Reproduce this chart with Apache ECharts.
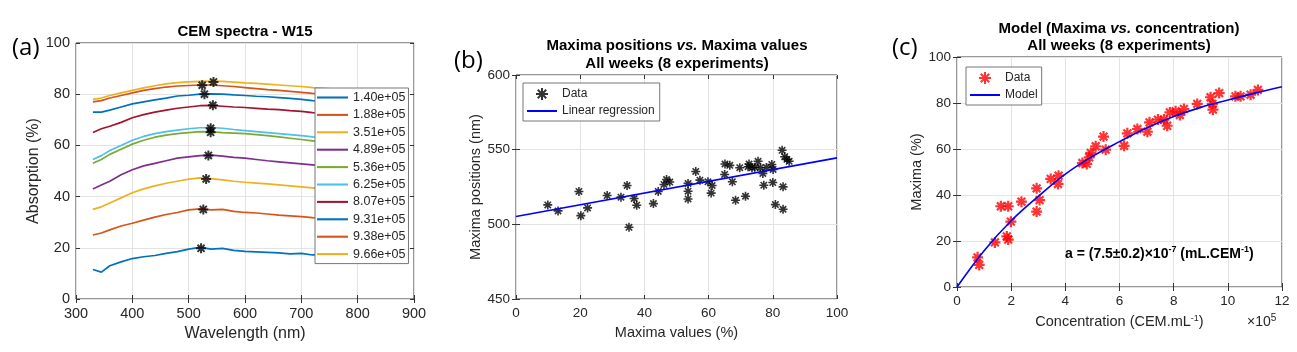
<!DOCTYPE html>
<html>
<head>
<meta charset="utf-8">
<title>CEM spectra</title>
<script src="https://cdn.jsdelivr.net/npm/echarts@6/dist/echarts.min.js"></script>
<style>
html, body { margin: 0; padding: 0; background: #fff; }
#main { width: 1297px; height: 352px; }
</style>
</head>
<body>
<div id="main"></div>
<script>
// (a) spectra
var wavelengths = [330, 345, 360, 380, 400, 420, 440, 460, 480, 500, 520, 540, 560, 580, 600, 620, 640, 660, 680, 700, 720, 740, 760, 780, 800, 820, 840, 860];
var abs140 = [11.5, 10.5, 13, 14.5, 15.8, 16.5, 17, 17.8, 18.5, 19.5, 20.2, 19.5, 19.8, 19, 18.6, 18.4, 18.2, 18, 17.6, 17.8, 17.2, 17.3, 17, 17.1, 16.9, 16.8, 16.2, 16.9];
var abs188 = [25, 25.8, 27, 28.5, 29.6, 30.8, 32, 33, 33.8, 34.8, 35.2, 34.8, 35, 34.2, 33.8, 33.6, 33.2, 32.8, 32.5, 32.2, 31.8, 31.5, 31.2, 31, 30.8, 30.5, 30.2, 30];
var abs351 = [35, 36, 37.5, 39.5, 41.5, 43, 44.2, 45.2, 46, 46.8, 47.3, 47, 46.5, 46, 45.6, 45.3, 45, 44.6, 44.2, 43.8, 43.4, 43, 42.6, 42.3, 42, 41.7, 41.4, 41.2];
var abs489 = [43, 44.5, 46, 48.5, 50.5, 52, 53, 54, 55, 55.5, 56, 56.2, 55.8, 55.3, 55, 54.5, 54, 53.6, 53.2, 52.8, 52.4, 52, 51.6, 51.3, 51, 50.7, 50.4, 50.2];
var abs536 = [53, 54.5, 56.5, 58.5, 60.5, 62, 63.2, 64, 64.6, 65, 65.4, 65.3, 65, 64.8, 64.6, 64.2, 63.8, 63.3, 62.8, 62.3, 61.8, 61.3, 60.9, 60.5, 60.1, 59.8, 59.5, 59.2];
var abs625 = [54.5, 56, 58, 60, 62, 63.5, 64.6, 65.4, 66, 66.5, 66.9, 67, 66.7, 66.2, 65.8, 65.4, 65, 64.6, 64.2, 63.8, 63.3, 62.9, 62.5, 62.1, 61.8, 61.5, 61.2, 61];
var abs807 = [65, 66.5, 67.5, 69, 70.8, 72, 73, 73.8, 74.5, 75, 75.5, 75.6, 75.3, 75, 74.8, 74.5, 74.2, 74, 73.6, 73.3, 72.8, 72.5, 72.2, 71.9, 71.6, 71.3, 71, 70.8];
var abs931 = [73, 73, 73.8, 75, 76.2, 77, 77.8, 78.5, 79.3, 79.6, 80, 80.1, 80, 79.7, 79.5, 79.2, 79, 78.7, 78.4, 78, 77.5, 77.2, 76.9, 76.6, 76.3, 76, 75.8, 75.5];
var abs938 = [77, 77.5, 78.5, 79.5, 80.5, 81.5, 82.2, 82.8, 83.2, 83.4, 83.6, 83.6, 83.3, 83, 82.6, 82.2, 81.8, 81.5, 81.1, 80.7, 80.3, 80, 79.6, 79.3, 79, 78.7, 78.4, 78.2];
var abs966 = [78, 78.5, 79.5, 80.5, 81.5, 82.5, 83.3, 84, 84.5, 84.8, 85, 85.1, 85, 84.7, 84.4, 84.2, 83.9, 83.6, 83.3, 83, 82.6, 82.3, 82, 81.7, 81.4, 81.1, 80.8, 80.5];
var concLabels = ['1.40e+05', '1.88e+05', '3.51e+05', '4.89e+05', '5.36e+05', '6.25e+05', '8.07e+05', '9.31e+05', '9.38e+05', '9.66e+05'];
var peakWl = [522, 526, 531, 535, 539, 539, 543, 528, 524, 544];
var peakVal = [19.8, 35, 46.9, 56.1, 65.1, 66.7, 75.7, 80, 83.5, 84.8];

// (b) maxima positions vs values
var maxVal = [9.9, 13.1, 19.6, 20.2, 22.3, 28.4, 32.7, 34.6, 35.2, 36.8, 37.6, 42.8, 44.3, 46.1, 46.9, 47.9, 53.6, 53.6, 53.6, 56.0, 57.3, 59.8, 61.1, 60.8, 65.0, 65.1, 66.6, 67.4, 68.4, 69.7, 71.5, 72.3, 72.6, 73.5, 74.4, 75.4, 76.1, 76.9, 77.2, 78.0, 79.7, 80.1, 80.0, 80.8, 82.9, 83.7, 84.4, 85.1, 83.2, 83.2];
var maxPos = [513, 509, 522, 505.8, 511, 519.3, 518.2, 526, 498, 517.3, 512.8, 513.9, 522, 526.7, 530, 528.3, 527.4, 522.2, 517, 535.4, 529.6, 528.5, 526, 520.9, 533.4, 540.4, 539.5, 528.5, 516.1, 537.9, 518.8, 538.6, 540.4, 537.9, 538.3, 542.2, 537.9, 534.1, 526.2, 538.1, 540.1, 536.8, 528, 513.2, 549.6, 545.3, 543.5, 542.2, 525.1, 510.1];
var regX = [0, 100];
var regY = [505.3, 544.5];

// (c) maxima vs concentration (x in 1e5 CEM/mL)
var concX = [0.76, 0.82, 1.40, 1.62, 1.89, 1.84, 1.89, 1.99, 2.38, 2.94, 3.05, 2.94, 3.46, 3.73, 3.75, 4.63, 4.79, 4.88, 4.94, 5.12, 5.41, 5.49, 6.17, 6.29, 6.66, 7.03, 7.11, 7.42, 7.64, 7.76, 7.86, 8.07, 8.23, 8.38, 8.87, 9.36, 9.43, 9.45, 9.68, 10.28, 10.47, 10.84, 11.11];
var maximaY = [12.9, 9.6, 19.4, 35.1, 35.1, 22.0, 20.6, 28.4, 37.1, 42.9, 37.8, 32.8, 47.0, 44.8, 48.4, 53.9, 53.5, 56.4, 58.3, 61.2, 65.4, 59.7, 61.4, 66.8, 68.7, 67.5, 71.6, 72.8, 72.8, 70.1, 75.9, 76.4, 74.8, 77.4, 79.6, 82.5, 79.6, 77.1, 84.3, 82.9, 82.9, 83.6, 85.7];
var modelX = [0, 1, 2, 3, 4, 5, 6, 7, 8, 9, 10, 11, 12];
var modelY = [0, 15.8, 28.8, 39.4, 49.1, 56.8, 63.2, 69.1, 74.1, 78.1, 81.3, 84.3, 87.1];

var spectra = [abs140, abs188, abs351, abs489, abs536, abs625, abs807, abs931, abs938, abs966];
var lineColors = ['#0072BD', '#D95319', '#EDB120', '#7E2F8E', '#77AC30', '#4DBEEE', '#A2142F', '#0072BD', '#D95319', '#EDB120'];

var FONT = "'Liberation Sans', Arial, sans-serif";
var TXT = '#262626';
var STAR = 'path://M10,0L10,20M0,10L20,10M2.93,2.93L17.07,17.07M2.93,17.07L17.07,2.93';
var LINE_ICON = 'path://M0,0L30,0L30,2L0,2Z';

function zip(xs, ys) {
    return xs.map(function(x, i) { return [x, ys[i]]; });
}

function xAx(gi, min, max, step, name, gap, fs, nfs) {
    return {
        gridIndex: gi, type: 'value', min: min, max: max, interval: step,
        name: name, nameLocation: 'middle', nameGap: gap,
        nameTextStyle: { fontFamily: FONT, fontSize: nfs, color: TXT, rich: { sup: { fontFamily: FONT, fontSize: 9, color: TXT, verticalAlign: 'top' } } },
        axisLine: { show: false },
        axisTick: { inside: true, length: 4, lineStyle: { color: '#333' } },
        axisLabel: { fontFamily: FONT, fontSize: fs, color: TXT, margin: 7 },
        splitLine: { show: true, lineStyle: { color: '#e3e3e3' } }
    };
}

function yAx(gi, min, max, step, name, gap, fs, nfs) {
    var a = xAx(gi, min, max, step, name, gap, fs, nfs);
    a.axisLabel.margin = 6;
    return a;
}

function mirror(gi, min, max, step, pos) {
    return {
        gridIndex: gi, type: 'value', min: min, max: max, interval: step, position: pos,
        axisLine: { show: false }, axisLabel: { show: false }, splitLine: { show: false },
        axisTick: { inside: true, length: 4, lineStyle: { color: '#333' } }
    };
}

function lineItem(name) {
    return { name: name, icon: LINE_ICON };
}

var series = [];
spectra.forEach(function(vals, i) {
    series.push({
        name: concLabels[i], type: 'line', xAxisIndex: 0, yAxisIndex: 0,
        data: zip(wavelengths, vals), symbol: 'none',
        lineStyle: { color: lineColors[i], width: 1.7 }, itemStyle: { color: lineColors[i] }
    });
});
series.push({
    name: 'peaks', type: 'scatter', xAxisIndex: 0, yAxisIndex: 0,
    data: zip(peakWl, peakVal), symbol: STAR, symbolSize: 10, symbolKeepAspect: true,
    itemStyle: { color: '#000', borderColor: '#000', borderWidth: 2 }, z: 5
});
series.push({
    name: 'Data', type: 'scatter', xAxisIndex: 2, yAxisIndex: 2,
    data: zip(maxVal, maxPos), symbol: STAR, symbolSize: 9, symbolKeepAspect: true,
    itemStyle: { color: '#000', borderColor: '#000', borderWidth: 1.6 }
});
series.push({
    name: 'Linear regression', type: 'line', xAxisIndex: 2, yAxisIndex: 2,
    data: zip(regX, regY), symbol: 'none', lineStyle: { color: '#0000FF', width: 1.6 }, itemStyle: { color: '#0000FF' }
});
series.push({
    name: 'Data ', type: 'scatter', xAxisIndex: 4, yAxisIndex: 4,
    data: zip(concX, maximaY), symbol: STAR, symbolSize: 11, symbolKeepAspect: true,
    itemStyle: { color: '#FF0000', borderColor: '#FF0000', borderWidth: 2.2 }
});
series.push({
    name: 'Model', type: 'line', xAxisIndex: 4, yAxisIndex: 4, smooth: 0.4,
    data: zip(modelX, modelY), symbol: 'none', lineStyle: { color: '#0000FF', width: 1.6 }, itemStyle: { color: '#0000FF' }, z: 4
});

var gridBox = { show: true, borderColor: '#333', borderWidth: 1, backgroundColor: '#fff' };
var legendBox = { orient: 'vertical', backgroundColor: '#fff', borderColor: '#777', borderWidth: 1, borderRadius: 0, symbolKeepAspect: true };

var option = {
    animation: false,
    backgroundColor: '#fff',
    title: [{
        text: 'CEM spectra - W15', left: 245, top: 24, textAlign: 'center', padding: 0,
        textStyle: { fontFamily: FONT, fontSize: 15, fontWeight: 'bold', color: '#000' }
    }, {
        text: '{b|Maxima positions }{i|vs.}{b| Maxima values}\n{b|All weeks (8 experiments)}',
        left: 677, top: 37, textAlign: 'center', padding: 0,
        textStyle: {
            rich: {
                b: { fontFamily: FONT, fontSize: 15, fontWeight: 'bold', color: '#000', lineHeight: 18 },
                i: { fontFamily: FONT, fontSize: 15, fontWeight: 'bold', fontStyle: 'italic', color: '#000', lineHeight: 18 }
            }
        }
    }, {
        text: '{b|Model (Maxima }{i|vs.}{b| concentration)}\n{b|All weeks (8 experiments)}',
        left: 1119, top: 20, textAlign: 'center', padding: 0,
        textStyle: {
            rich: {
                b: { fontFamily: FONT, fontSize: 15, fontWeight: 'bold', color: '#000', lineHeight: 17 },
                i: { fontFamily: FONT, fontSize: 15, fontWeight: 'bold', fontStyle: 'italic', color: '#000', lineHeight: 17 }
            }
        }
    }],
    grid: [
        Object.assign({ left: 76, top: 43, width: 338, height: 256 }, gridBox),
        Object.assign({ left: 516, top: 75, width: 321, height: 224 }, gridBox),
        Object.assign({ left: 957, top: 57, width: 325, height: 230 }, gridBox)
    ],
    xAxis: [
        xAx(0, 300, 900, 100, 'Wavelength (nm)', 26, 14.5, 16),
        mirror(0, 300, 900, 100, 'top'),
        xAx(1, 0, 100, 20, 'Maxima values (%)', 26, 13.5, 14.5),
        mirror(1, 0, 100, 20, 'top'),
        xAx(2, 0, 12, 2, 'Concentration (CEM.mL{sup|-1})', 27, 13.5, 14.5),
        mirror(2, 0, 12, 2, 'top')
    ],
    yAxis: [
        yAx(0, 0, 100, 20, 'Absorption (%)', 34, 14.5, 16),
        mirror(0, 0, 100, 20, 'right'),
        yAx(1, 450, 600, 50, 'Maxima positions (nm)', 31, 13.5, 14.5),
        mirror(1, 450, 600, 50, 'right'),
        yAx(2, 0, 100, 20, 'Maxima (%)', 31, 13.5, 14.5),
        mirror(2, 0, 100, 20, 'right')
    ],
    legend: [Object.assign({
        data: concLabels.map(lineItem), left: 315, top: 88,
        itemWidth: 31, itemHeight: 12, itemGap: 4.4, padding: [3, 3, 3, 2],
        textStyle: { fontFamily: FONT, fontSize: 12.5, color: TXT }
    }, legendBox), Object.assign({
        data: ['Data', lineItem('Linear regression')], left: 523, top: 83,
        itemWidth: 30, itemHeight: 12, itemGap: 4, padding: [4, 5, 4, 4],
        textStyle: { fontFamily: FONT, fontSize: 12, color: TXT }
    }, legendBox), Object.assign({
        data: ['Data ', lineItem('Model')], left: 966, top: 67,
        itemWidth: 30, itemHeight: 12, itemGap: 4, padding: [4, 4, 4, 4],
        textStyle: { fontFamily: FONT, fontSize: 12, color: TXT }
    }, legendBox)],
    graphic: [{
        type: 'text', left: 12, top: 36,
        style: { text: '(a)', font: "24px 'Open Sans', sans-serif", fill: '#000' }
    }, {
        type: 'text', left: 454, top: 49,
        style: { text: '(b)', font: "24px 'Open Sans', sans-serif", fill: '#000' }
    }, {
        type: 'text', left: 892, top: 36,
        style: { text: '(c)', font: "24px 'Open Sans', sans-serif", fill: '#000' }
    }, {
        type: 'text', left: 1065, top: 245, z: 10,
        style: {
            text: '{b|a = (7.5\u00b10.2)\u00d710}{s|-7}{b| (mL.CEM}{s|-1}{b|)}',
            rich: {
                b: { fontFamily: FONT, fontSize: 14, fontWeight: 'bold', fill: '#000', lineHeight: 18 },
                s: { fontFamily: FONT, fontSize: 9, fontWeight: 'bold', fill: '#000', verticalAlign: 'top' }
            }
        }
    }, {
        type: 'text', left: 1247, top: 313,
        style: {
            text: '{b|\u00d710}{s|5}',
            rich: {
                b: { fontFamily: FONT, fontSize: 14, fill: TXT, lineHeight: 18 },
                s: { fontFamily: FONT, fontSize: 10, fill: TXT, verticalAlign: 'top' }
            }
        }
    }],
    series: series
};

var myChart = echarts.init(document.getElementById('main'));
myChart.setOption(option);
</script>
</body>
</html>
